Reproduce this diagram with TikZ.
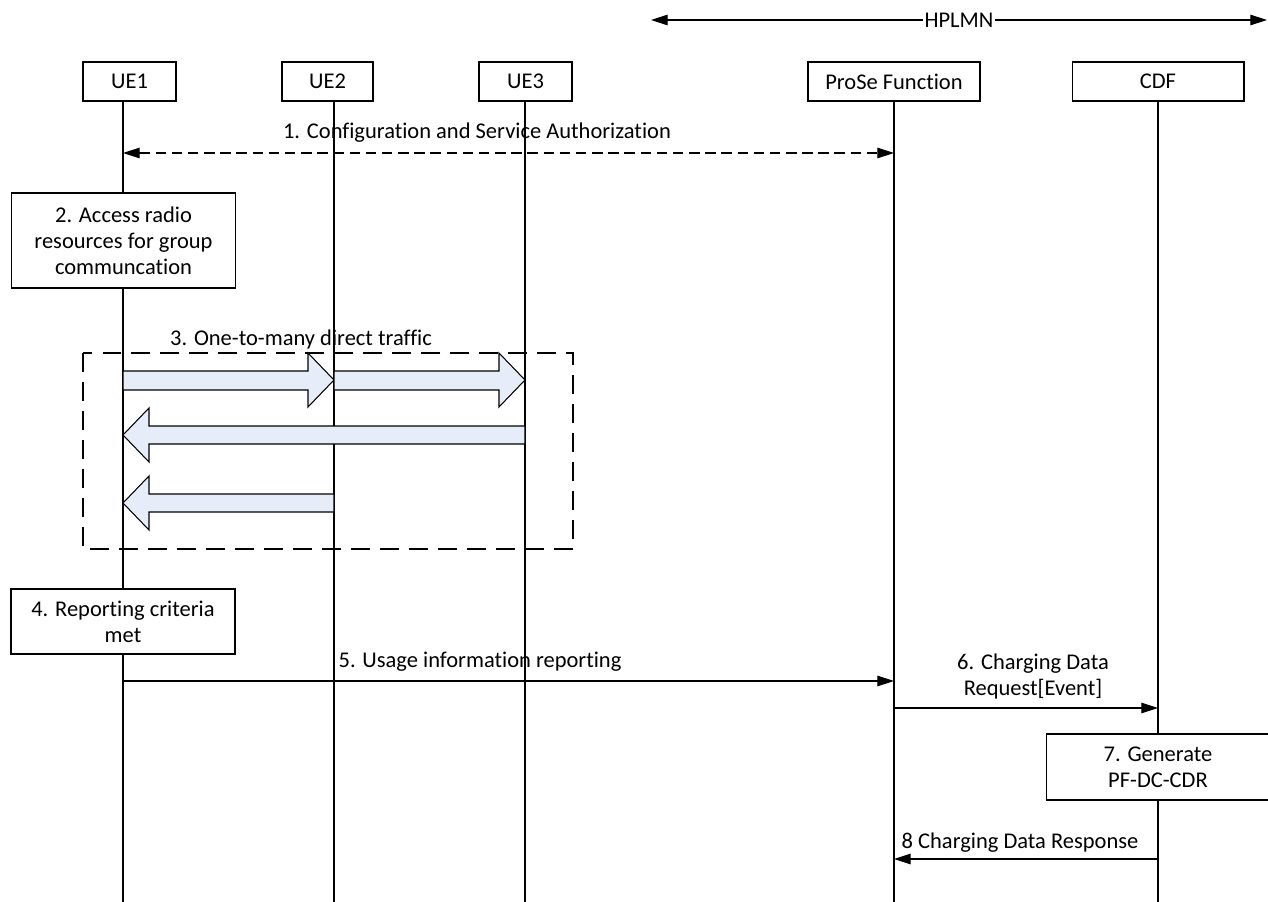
\documentclass[tikz,border=0pt]{standalone}
\usepackage{fontspec}
\setmainfont{Carlito}[Ligatures=NoCommon]
\usetikzlibrary{arrows.meta}
\definecolor{flowblue}{RGB}{230,237,248}

\begin{document}
\begin{tikzpicture}[x=0.02cm,y=-0.02cm,line width=0.6pt,
  >={Triangle[length=9.5pt,width=6pt]},
  every node/.style={font=\fontsize{12.8}{14.8}\selectfont},
  entity/.style={draw,fill=white,minimum height=0.78cm,inner sep=0pt},
  actbox/.style={draw,fill=white,align=center,minimum width=4.48cm,inner sep=0pt},
  lbl/.style={anchor=base,inner sep=0pt},
  flow/.style={draw,fill=flowblue,line join=miter}]
\useasboundingbox (0,0) rectangle (1268,902);

% HPLMN range
  \coordinate (hpl) at (651,20);
  \coordinate (hpr) at (1267,20);
  \draw[<->] (hpl) -- node[fill=white,inner sep=1pt] (hplmn) {HPLMN} (hpr);

% entities
  \node (ue1) at (129.5,81.5) [entity,minimum width=1.86cm] {UE1};
  \node (ue2) at (327.5,81.5) [entity,minimum width=1.82cm] {UE2};
  \node (ue3) at (525.5,81.5) [entity,minimum width=1.86cm] {UE3};
  \node (pf)  at (894,81.5)   [entity,minimum width=3.44cm] {ProSe Function};
  \node (cdf) at (1158,81.5)  [entity,minimum width=3.44cm] {CDF};

% lifelines
  \coordinate (ue1x) at (123,902);
  \coordinate (ue2x) at (334,902);
  \coordinate (ue3x) at (525,902);
  \coordinate (pfx)  at (894,902);
  \coordinate (cdfx) at (1158,902);
  \draw (ue1x |- ue1.south) -- (ue1x);
  \draw (ue2x |- ue2.south) -- (ue2x);
  \draw (ue3x |- ue3.south) -- (ue3x);
  \draw (pfx |- pf.south) -- (pfx);
  \draw (cdfx |- cdf.south) -- (cdfx);

% 1. configuration
  \node (m1) at (477,139) [lbl] {1. Configuration and Service Authorization};
  \draw[<->,dash pattern=on 6pt off 3.2pt] (ue1x |- 0,153) -- (pfx |- 0,153);

% 2. radio resources
  \node (act2) at (123.5,240.5) [actbox,minimum height=1.9cm]
    {2. Access radio\\resources for group\\communcation};

% 3. one-to-many direct traffic
  \node (m3) at (301,345) [lbl] {3. One-to-many direct traffic};
  \draw[dash pattern=on 10.8pt off 5.7pt] (83,353) rectangle (573,549);

  \draw[flow] (123,371) -- (308,371) -- (308,353) -- (334,380) -- (308,407)
    -- (308,390) -- (123,390) -- cycle;
  \draw[flow] (334,371) -- (499,371) -- (499,353) -- (525,380) -- (499,407)
    -- (499,390) -- (334,390) -- cycle;
  \draw[flow] (525,426) -- (149,426) -- (149,408) -- (123,435) -- (149,462)
    -- (149,444) -- (525,444) -- cycle;
  \draw[flow] (334,494) -- (149,494) -- (149,476) -- (123,503) -- (149,530)
    -- (149,512) -- (334,512) -- cycle;

% 4. reporting criteria
  \node (act4) at (123,621.5) [actbox,minimum height=1.3cm]
    {4. Reporting criteria\\met};

% 5. usage information
  \node (m5) at (480,667) [lbl] {5. Usage information reporting};
  \draw[->] (ue1x |- 0,681) -- (pfx |- 0,681);

% 6. charging data request
  \node (m6) at (1033,676.5) [align=center,inner sep=0pt]
    {6. Charging Data\\Request[Event]};
  \draw[->] (pfx |- 0,708) -- (cdfx |- 0,708);

% 7. generate CDR
  \node (act7) at (1158,767) [actbox,minimum height=1.32cm]
    {7. Generate\\PF-DC-CDR};

% 8. charging data response
  \node (m8) at (1020,848) [lbl] {8 Charging Data Response};
  \draw[->] (cdfx |- 0,859) -- (pfx |- 0,859);

\end{tikzpicture}
\end{document}
